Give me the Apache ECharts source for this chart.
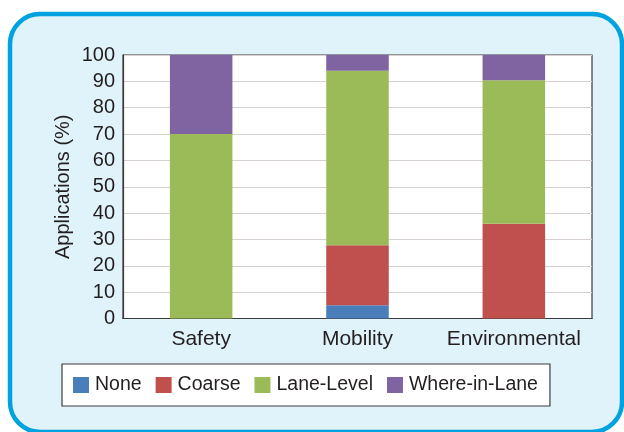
<!DOCTYPE html>
<html>
<head>
<meta charset="utf-8">
<script src="https://cdn.jsdelivr.net/npm/echarts@6/dist/echarts.min.js"></script>
<style>
  html, body { margin: 0; padding: 0; background: #ffffff; }
  #chart { width: 624px; height: 432px; }
</style>
</head>
<body>
<div id="chart"></div>
<script>
// Share of applications by positioning accuracy requirement (%)
const categories = ['Safety', 'Mobility', 'Environmental'];
const noneVals = [0, 5, 0];
const coarseVals = [0, 22.8, 36];
const laneLevelVals = [70, 66.2, 54.4];
const whereInLaneVals = [30, 6, 9.6];
const yTicks = [0, 10, 20, 30, 40, 50, 60, 70, 80, 90, 100];

const FONT = 'Liberation Sans, Arial, Helvetica, sans-serif';
const TEXT = '#231f20';

const chart = echarts.init(document.getElementById('chart'), null, { renderer: 'canvas' });

function bar(name, data, color) {
  return {
    name, type: 'bar', stack: 'total', data,
    barWidth: '40%',
    itemStyle: { color },
    emphasis: { disabled: true }
  };
}

chart.setOption({
  animation: false,
  backgroundColor: '#ffffff',
  graphic: [{
    type: 'rect',
    z: -10,
    shape: { x: 10, y: 14, width: 612, height: 418, r: 30 },
    style: { fill: '#e0f2fa', stroke: '#00a3e0', lineWidth: 4.5 }
  }],
  grid: {
    left: 123, right: 32, top: 55, bottom: 113.5,
    show: true, backgroundColor: '#ffffff',
    borderColor: '#3a3a3a', borderWidth: 1.2
  },
  legend: {
    left: 62, top: 364,
    padding: [11, 12, 11, 11],
    backgroundColor: '#ffffff',
    borderColor: '#3a3a3a', borderWidth: 1.2,
    itemWidth: 16, itemHeight: 16, itemGap: 14,
    icon: 'rect',
    selectedMode: false,
    textStyle: { fontFamily: FONT, fontSize: 19.5, color: TEXT, padding: [0, 0, 0, 1] }
  },
  xAxis: {
    type: 'category',
    data: categories,
    axisLine: { lineStyle: { color: '#3a3a3a', width: 1.2 } },
    axisTick: { show: false },
    axisLabel: {
      interval: 0, hideOverlap: false,
      fontFamily: FONT, fontSize: 21, color: TEXT, margin: 10
    }
  },
  yAxis: {
    type: 'value',
    min: yTicks[0], max: yTicks[yTicks.length - 1], interval: 10,
    name: 'Applications (%)',
    nameLocation: 'middle',
    nameGap: 50,
    nameMoveOverlap: false,
    nameTextStyle: { fontFamily: FONT, fontSize: 20, color: TEXT },
    axisLine: { show: true, lineStyle: { color: '#3a3a3a', width: 1.2 } },
    axisTick: { show: false },
    axisLabel: { fontFamily: FONT, fontSize: 20, color: TEXT, margin: 8 },
    splitLine: { lineStyle: { color: '#d8cfcf', width: 1 } }
  },
  series: [
    bar('None', noneVals, '#4a7ebb'),
    bar('Coarse', coarseVals, '#c0504d'),
    bar('Lane-Level', laneLevelVals, '#9bbb59'),
    bar('Where-in-Lane', whereInLaneVals, '#8064a2')
  ]
});
</script>
</body>
</html>
